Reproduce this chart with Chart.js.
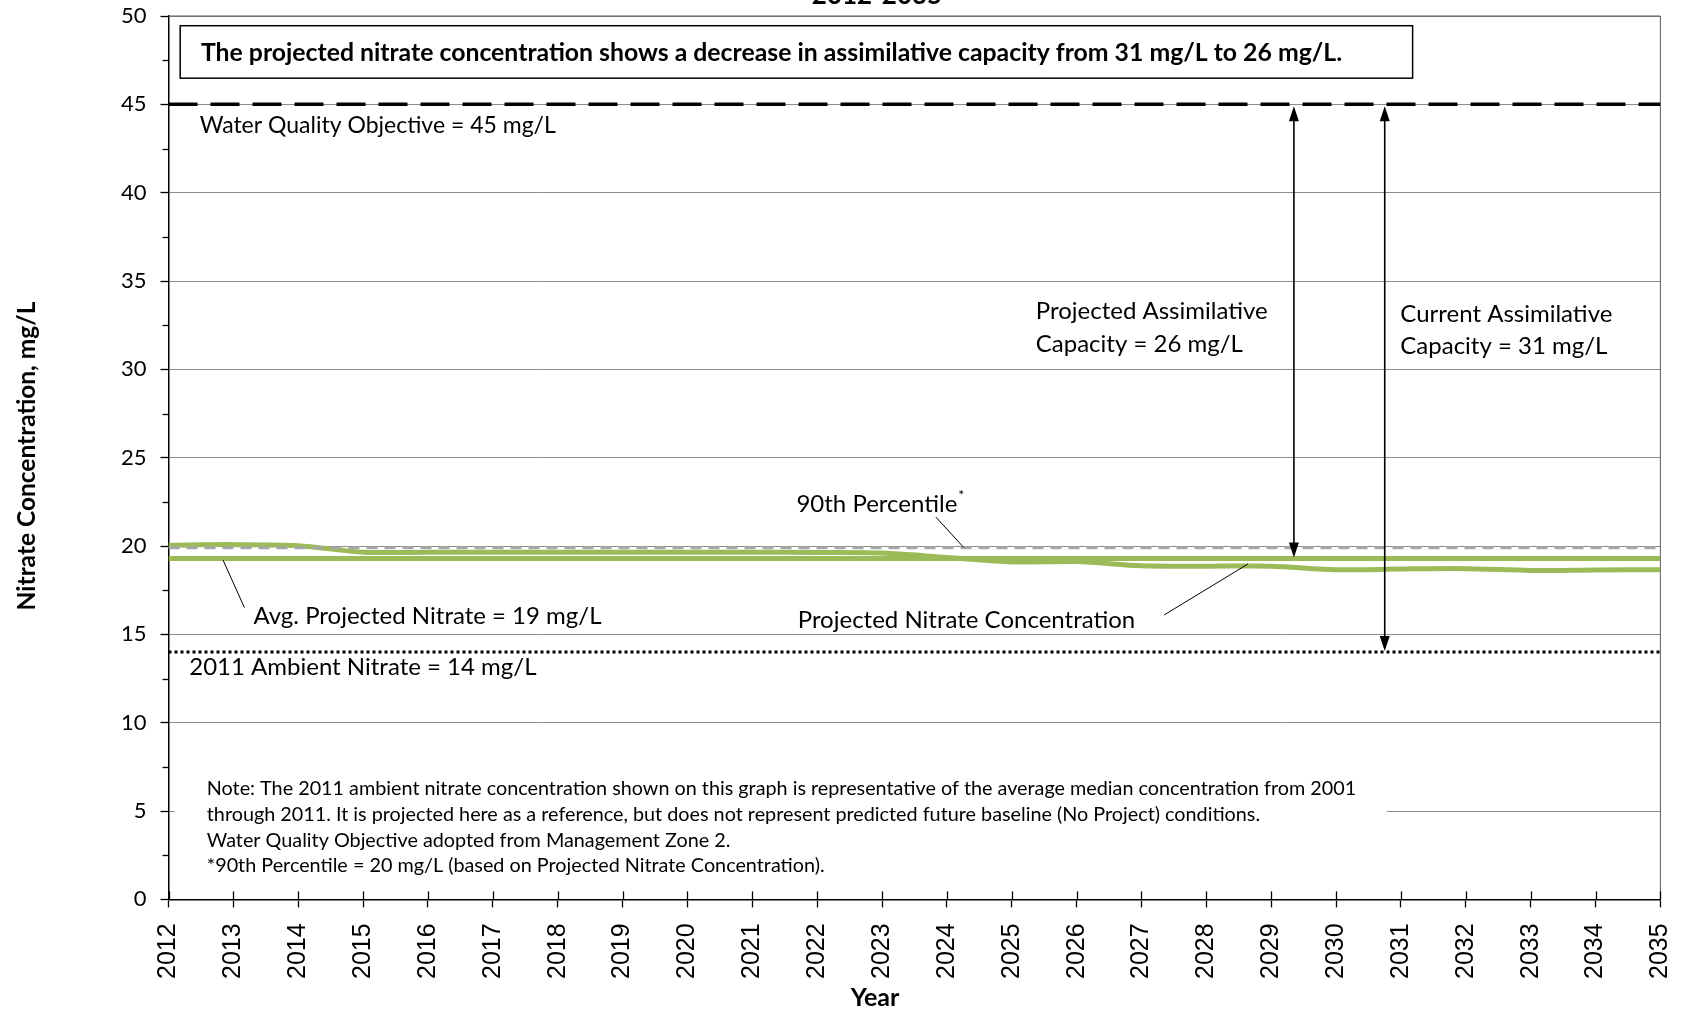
<!DOCTYPE html>
<html lang="en">
<head>
  <meta charset="UTF-8">
  <title>Projected Nitrate Concentration 2012-2035</title>
  <script src="https://cdn.jsdelivr.net/npm/chart.js"></script>
  <style>
    html, body { margin: 0; padding: 0; background: #fff; }
  </style>
</head>
<body>
  <canvas id="myChart" width="1683" height="1012"></canvas>

  <script>
    // values
    const years = [2012, 2013, 2014, 2015, 2016, 2017, 2018, 2019, 2020, 2021, 2022, 2023,
                   2024, 2025, 2026, 2027, 2028, 2029, 2030, 2031, 2032, 2033, 2034, 2035];
    const projectedNitrate = [20.05, 20.08, 20.02, 19.65, 19.65, 19.65, 19.65, 19.65, 19.65, 19.65, 19.63, 19.6,
                              19.35, 19.1, 19.12, 18.88, 18.86, 18.86, 18.66, 18.7, 18.72, 18.62, 18.65, 18.66];
    const avgProjected = 19.3;
    const percentile90 = 19.9;
    const waterQualityObjective = 45;
    const ambient2011 = 14;
    const yMin = 0, yMax = 50, yStep = 5;

    const flat = v => years.map(yr => ({ x: yr, y: v }));
    const series = vals => years.map((yr, i) => ({ x: yr, y: vals[i] }));

    const labelFont = '"Lato", "Liberation Sans", sans-serif';
    const green = '#9bbb59';

    // annotation anchors in (year, mg/L)
    const arrows = [
      { x: 2029.35, top: waterQualityObjective, bottom: avgProjected },
      { x: 2030.75, top: waterQualityObjective, bottom: ambient2011 }
    ];
    const labels = [
      { text: 'Water Quality Objective = 45 mg/L', x: 2012.48, y: 43.8, size: 23 },
      { text: 'Projected Assimilative', x: 2025.37, y: 33.31 },
      { text: 'Capacity = 26 mg/L', x: 2025.37, y: 31.41 },
      { text: 'Current Assimilative', x: 2030.99, y: 33.11 },
      { text: 'Capacity = 31 mg/L', x: 2030.99, y: 31.28 },
      { text: 'Avg. Projected Nitrate = 19 mg/L', x: 2013.31, y: 16.04 },
      { text: 'Projected Nitrate Concentration', x: 2021.7, y: 15.79 },
      { text: '2011 Ambient Nitrate = 14 mg/L', x: 2012.32, y: 13.12 }
    ];
    const leaders = [
      [2023.83, 21.64, 2024.26, 19.92],
      [2012.84, 19.21, 2013.17, 16.52],
      [2027.35, 16.1, 2028.64, 18.98]
    ];
    const noteLines = [
      'Note: The 2011 ambient nitrate concentration shown on this graph is representative of the average median concentration from 2001',
      'through 2011. It is projected here as a reference, but does not represent predicted future baseline (No Project) conditions.',
      'Water Quality Objective adopted from Management Zone 2.',
      '*90th Percentile = 20 mg/L (based on Projected Nitrate Concentration).'
    ];
    const noteY = [6.25, 4.8, 3.34, 1.89];
    const summary = 'The projected nitrate concentration shows a decrease in assimilative capacity from 31 mg/L to 26 mg/L.';

    const overlay = {
      id: 'overlay',
      beforeDatasetsDraw(chart) {
        const { ctx, chartArea: a, scales: { x, y } } = chart;
        ctx.save();
        // white box behind the note hides the gridline at 5
        ctx.fillStyle = '#fff';
        const nx0 = x.getPixelForValue(2012.1), nx1 = x.getPixelForValue(2030.78);
        const ny0 = y.getPixelForValue(7.4), ny1 = y.getPixelForValue(0.5);
        ctx.fillRect(nx0, ny0, nx1 - nx0, ny1 - ny0);
        // top / right plot border
        ctx.strokeStyle = '#595959';
        ctx.lineWidth = 1;
        ctx.beginPath();
        ctx.moveTo(a.left, a.top);
        ctx.lineTo(a.right, a.top);
        ctx.lineTo(a.right, a.bottom);
        ctx.stroke();
        ctx.restore();
      },
      afterDraw(chart) {
        const { ctx, chartArea: a, scales: { x, y } } = chart;
        ctx.save();
        ctx.strokeStyle = '#000';
        ctx.fillStyle = '#000';

        // x ticks also poke up into the plot
        ctx.lineWidth = 1.3;
        years.forEach(yr => {
          const px = Math.round(x.getPixelForValue(yr)) + 0.5;
          ctx.beginPath(); ctx.moveTo(px, a.bottom - 8); ctx.lineTo(px, a.bottom); ctx.stroke();
        });
        // minor y ticks
        for (let v = yMin + yStep / 2; v < yMax; v += yStep) {
          const py = Math.round(y.getPixelForValue(v)) + 0.5;
          ctx.beginPath(); ctx.moveTo(a.left - 6, py); ctx.lineTo(a.left, py); ctx.stroke();
        }

        // double headed arrows
        ctx.lineWidth = 1.6;
        arrows.forEach(ar => {
          const px = x.getPixelForValue(ar.x);
          const t = y.getPixelForValue(ar.top) + 2, b = y.getPixelForValue(ar.bottom) - 1;
          ctx.beginPath(); ctx.moveTo(px, t + 10); ctx.lineTo(px, b - 10); ctx.stroke();
          ctx.beginPath(); ctx.moveTo(px, t); ctx.lineTo(px - 5, t + 15); ctx.lineTo(px + 5, t + 15); ctx.closePath(); ctx.fill();
          ctx.beginPath(); ctx.moveTo(px, b); ctx.lineTo(px - 5, b - 15); ctx.lineTo(px + 5, b - 15); ctx.closePath(); ctx.fill();
        });

        // leader lines
        ctx.lineWidth = 1;
        leaders.forEach(l => {
          ctx.beginPath();
          ctx.moveTo(x.getPixelForValue(l[0]), y.getPixelForValue(l[1]));
          ctx.lineTo(x.getPixelForValue(l[2]), y.getPixelForValue(l[3]));
          ctx.stroke();
        });

        // summary box
        const bx0 = x.getPixelForValue(2012.18), bx1 = x.getPixelForValue(2031.18);
        const by0 = y.getPixelForValue(49.45), by1 = y.getPixelForValue(46.48);
        ctx.fillStyle = '#fff';
        ctx.fillRect(bx0, by0, bx1 - bx0, by1 - by0);
        ctx.lineWidth = 1.5;
        ctx.strokeRect(bx0, by0, bx1 - bx0, by1 - by0);
        ctx.fillStyle = '#000';
        ctx.textBaseline = 'middle';
        ctx.textAlign = 'left';
        ctx.font = 'bold 24.8px ' + labelFont;
        ctx.fillText(summary, x.getPixelForValue(2012.5), y.getPixelForValue(47.93));

        // labels
        labels.forEach(l => {
          ctx.font = (l.size || 24) + 'px ' + labelFont;
          ctx.fillText(l.text, x.getPixelForValue(l.x), y.getPixelForValue(l.y));
        });
        ctx.font = '24px ' + labelFont;
        const p90x = x.getPixelForValue(2021.68), p90y = y.getPixelForValue(22.35);
        ctx.fillText('90th Percentile', p90x, p90y);
        const w90 = ctx.measureText('90th Percentile').width;
        ctx.font = '14px ' + labelFont;
        ctx.fillText('*', p90x + w90 + 1, p90y - 9);

        // note
        ctx.font = '19.8px ' + labelFont;
        noteLines.forEach((s, i) => ctx.fillText(s, x.getPixelForValue(2012.59), y.getPixelForValue(noteY[i])));

        // titles
        ctx.textAlign = 'center';
        ctx.font = 'bold 26px ' + labelFont;
        ctx.textBaseline = 'alphabetic';
        ctx.fillText('2012-2035', 877, 4);
        ctx.font = 'bold 25px ' + labelFont;
        ctx.textBaseline = 'middle';
        ctx.fillText('Year', 875, 998);
        ctx.translate(27, 456);
        ctx.rotate(-Math.PI / 2);
        ctx.font = 'bold 24.5px ' + labelFont;
        ctx.fillText('Nitrate Concentration, mg/L', 0, 0);
        ctx.restore();
      }
    };

    const ctx = document.getElementById('myChart').getContext('2d');

    const chart = new Chart(ctx, {
      type: 'line',
      data: {
        datasets: [
          {
            label: 'Water Quality Objective',
            data: flat(waterQualityObjective),
            borderColor: '#000',
            borderWidth: 3.5,
            borderDash: [29, 13]
          },
          {
            label: '2011 Ambient Nitrate',
            data: flat(ambient2011),
            borderColor: '#000',
            borderWidth: 3,
            borderDash: [3, 3]
          },
          {
            label: '90th Percentile',
            data: flat(percentile90),
            borderColor: '#a6a6a6',
            borderWidth: 3,
            borderDash: [11, 7]
          },
          {
            label: 'Avg. Projected Nitrate',
            data: flat(avgProjected),
            borderColor: green,
            borderWidth: 5
          },
          {
            label: 'Projected Nitrate Concentration',
            data: series(projectedNitrate),
            borderColor: green,
            borderWidth: 5,
            tension: 0.3
          }
        ]
      },
      options: {
        responsive: false,
        animation: false,
        elements: { point: { radius: 0 } },
        layout: { padding: { left: 0, top: 16, right: 22.6, bottom: 0 } },
        plugins: {
          legend: { display: false },
          tooltip: { enabled: false }
        },
        scales: {
          x: {
            type: 'linear',
            min: 2012,
            max: 2035,
            afterFit: s => { s.height = 112.6; s.paddingLeft = 0; s.paddingRight = 0; },
            ticks: {
              stepSize: 1,
              minRotation: 90,
              maxRotation: 90,
              padding: 16,
              color: '#000',
              font: { family: '"Liberation Sans", Arial, sans-serif', size: 25 },
              callback: v => String(v)
            },
            grid: { drawOnChartArea: false, tickLength: 8, tickColor: '#000', tickWidth: 1.3 },
            border: { color: '#000', width: 1.5 }
          },
          y: {
            min: yMin,
            max: yMax,
            afterFit: s => { s.width = 168.5; s.paddingTop = 0; s.paddingBottom = 0; },
            ticks: {
              stepSize: yStep,
              padding: 14,
              color: '#000',
              font: { family: labelFont, size: 22 }
            },
            grid: { color: '#8c8c8c', lineWidth: 1, tickLength: 8, tickColor: '#000', tickWidth: 1.3 },
            border: { color: '#000', width: 1.5 }
          }
        }
      },
      plugins: [overlay]
    });
  </script>
</body>
</html>
